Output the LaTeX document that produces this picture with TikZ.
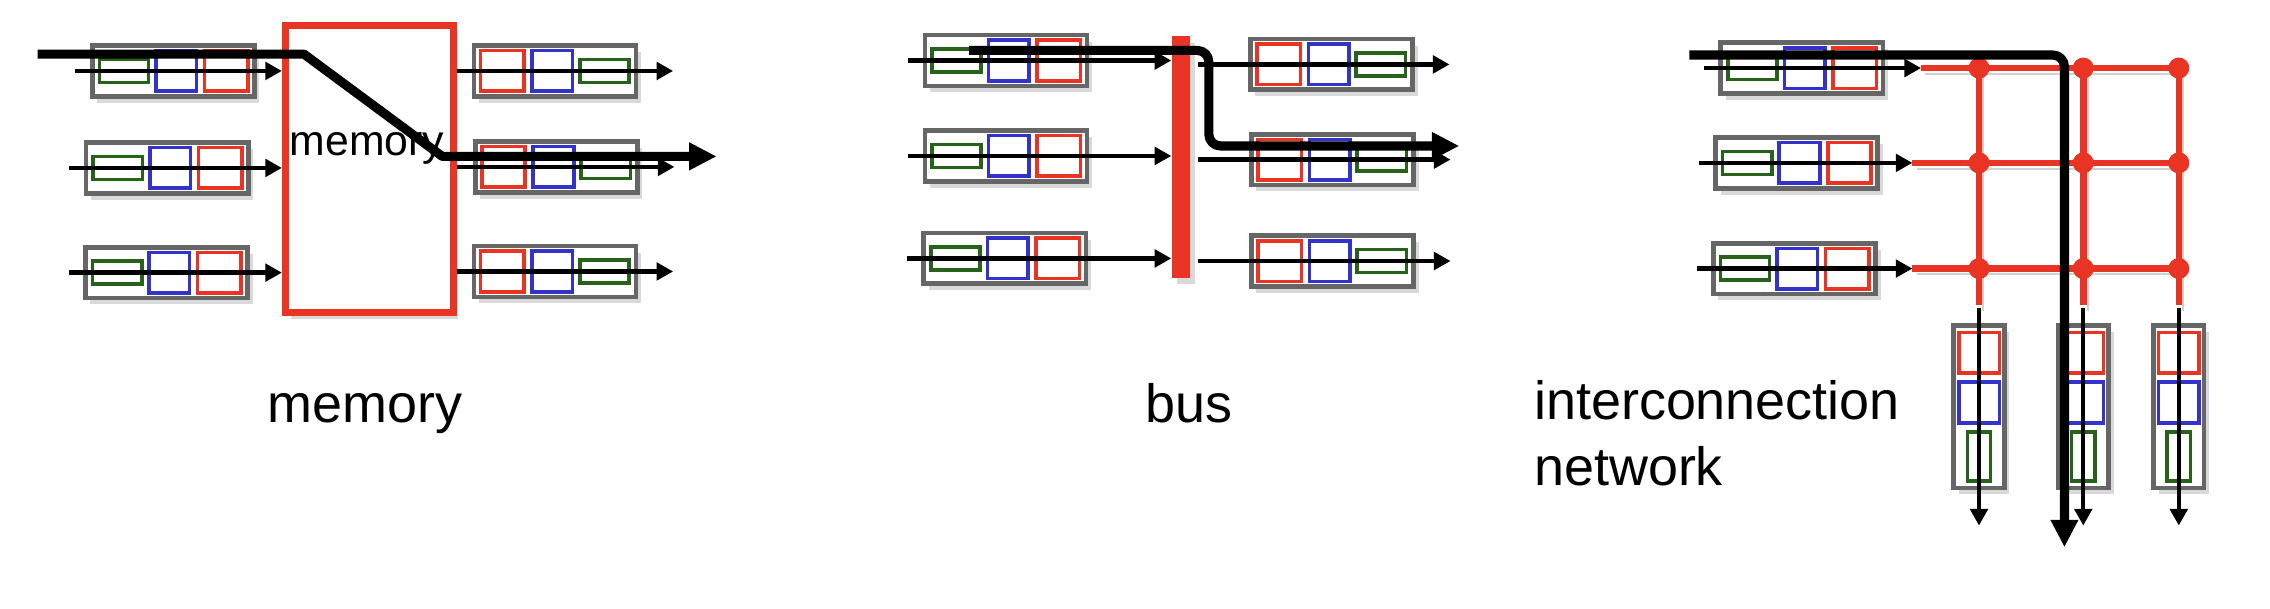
\documentclass[tikz,border=0pt]{standalone}
\usepackage{fontspec}
\setmainfont{Liberation Sans}
\usepackage{tikz}
\usetikzlibrary{arrows.meta, shadows}
\usetikzlibrary{positioning}

\definecolor{qred}{RGB}{233,51,35}
\definecolor{qblue}{RGB}{51,51,204}
\definecolor{qgreen}{RGB}{38,98,25}
\definecolor{qgray}{RGB}{102,102,102}

\begin{document}
\begin{tikzpicture}[x=0.1mm, y=-0.1mm,
            queue/.style={rectangle, draw=qgray, line width=0.9pt, fill=white, inner sep=0pt, minimum width=11.2mm, minimum height=3.5mm, drop shadow={shadow xshift=0.35mm, shadow yshift=-0.45mm, opacity=0.3}},
            vqueue/.style={queue, minimum width=3.5mm, minimum height=11.2mm},
            cell/.style={rectangle, line width=0.7pt, inner sep=0pt, minimum width=2.8mm, minimum height=2.8mm},
            redcell/.style={cell, draw=qred},
            bluecell/.style={cell, draw=qblue},
            greencell/.style={cell, draw=qgreen, minimum width=3.4mm, minimum height=1.6mm},
            vgreencell/.style={cell, draw=qgreen, minimum width=1.6mm, minimum height=3.4mm},
            thinarrow/.style={line width=0.85pt, -{Triangle[length=1.15mm, width=1.2mm]}},
            fatarrow/.style={line width=1.8pt, line join=round, -{Triangle[length=1.9mm, width=1.8mm]}},
            gridline/.style={draw=qred, line width=1.3pt, preaction={draw=black, opacity=0.18, transform canvas={xshift=0.3mm, yshift=-0.4mm}}},
            dot/.style={circle, fill=qred, inner sep=0pt, minimum size=1.45mm},
            caption/.style={font=\fontsize{10.6}{12.9}\selectfont, inner sep=0pt}]
            \useasboundingbox (0,0) rectangle (1568,420);

            % Switching via memory
            \foreach \i/\x/\y in {1/119.7/49, 2/115.5/116, 3/115/188.3} {
                \node[queue] (mi\i) at (\x,\y) {};
                \node[greencell] at ([xshift=-3.41mm]mi\i.center) {};
                \node[bluecell] at ([xshift=0.2mm]mi\i.center) {};
                \node[redcell, minimum width=3mm] at ([xshift=3.65mm]mi\i.center) {};
            }
            \foreach \i/\x/\y in {1/383.4/49, 2/384.3/115.3, 3/383.4/187.5} {
                \node[queue] (mo\i) at (\x,\y) {};
                \node[redcell, minimum width=3mm] at ([xshift=-3.65mm]mo\i.center) {};
                \node[bluecell] at ([xshift=-0.2mm]mo\i.center) {};
                \node[greencell] at ([xshift=3.41mm]mo\i.center) {};
            }
            \node[rectangle, draw=qred, line width=1.4pt, fill=white, minimum width=11.6mm, minimum height=19.8mm, drop shadow={shadow xshift=0.35mm, shadow yshift=-0.45mm, opacity=0.3}] (mem) at (255.2,116.8) {};
            \node[font=\fontsize{8.4}{10}\selectfont, inner sep=0pt, anchor=base] (memtxt) at (253.5,107.4) {memory};

            \foreach \i in {1,2,3} {
                \coordinate (mia\i) at ([xshift=-1mm]mi\i.west);
                \draw[thinarrow] (mia\i) -- (mia\i -| mem.west);
                \draw[thinarrow] (mo\i -| mem.east) -- ([xshift=2.4mm]mo\i.east);
            }
            \coordinate (mstart) at (26,37.4);
            \coordinate (mbend1) at (210,37.4);
            \coordinate (mbend2) at (305.5,108);
            \coordinate (mend) at (495,108);
            \draw[fatarrow] (mstart) -- (mbend1) -- (mbend2) -- (mend);
            \node[caption, anchor=base] (memlbl) at (252,292) {memory};

            % Switching via bus
            \foreach \i/\x/\y in {1/694.9/41.8, 2/694.9/107.7, 3/694.1/178.5} {
                \node[queue] (bi\i) at (\x,\y) {};
                \node[greencell] at ([xshift=-3.41mm]bi\i.center) {};
                \node[bluecell] at ([xshift=0.2mm]bi\i.center) {};
                \node[redcell, minimum width=3mm] at ([xshift=3.65mm]bi\i.center) {};
            }
            \foreach \i/\x/\y in {1/919.7/44.5, 2/920.4/110.2, 3/920.4/180.3} {
                \node[queue] (bo\i) at (\x,\y) {};
                \node[redcell, minimum width=3mm] at ([xshift=-3.65mm]bo\i.center) {};
                \node[bluecell] at ([xshift=-0.2mm]bo\i.center) {};
                \node[greencell] at ([xshift=3.41mm]bo\i.center) {};
            }
            \node[rectangle, fill=qred, inner sep=0pt, minimum width=1.2mm, minimum height=16.7mm, drop shadow={shadow xshift=0.35mm, shadow yshift=-0.45mm, opacity=0.3}] (bus) at (815.8,108.5) {};

            \foreach \i in {1,2,3} {
                \coordinate (bia\i) at ([xshift=-1mm]bi\i.west);
                \draw[thinarrow] (bia\i) -- (bia\i -| bus.west);
                \draw[thinarrow, shorten <=0.5mm] (bo\i -| bus.east) -- ([xshift=2.4mm]bo\i.east);
            }
            \coordinate (bstart) at (669.4,34.8);
            \coordinate (bbend1) at (835,34.8);
            \coordinate (bbend2) at (835,100.8);
            \coordinate (bend) at (1008,100.8);
            \draw[fatarrow, rounded corners=0.8mm] (bstart) -- (bbend1) -- (bbend2) -- (bend);
            \node[caption, anchor=base] (buslbl) at (821,292) {bus};

            % Switching via interconnection network
            \foreach \i/\x/\y in {1/1244.6/47, 2/1241/112.5, 3/1239.5/185.5} {
                \node[queue] (ni\i) at (\x,\y) {};
                \node[greencell] at ([xshift=-3.41mm]ni\i.center) {};
                \node[bluecell] at ([xshift=0.2mm]ni\i.center) {};
                \node[redcell, minimum width=3mm] at ([xshift=3.65mm]ni\i.center) {};
            }
            \foreach \c/\x in {1/1367, 2/1439, 3/1505} {
                \node[vqueue] (nv\c) at (\x,281) {};
                \node[redcell] at ([yshift=3.72mm]nv\c.center) {};
                \node[bluecell] at ([yshift=0.3mm]nv\c.center) {};
                \node[vgreencell] at ([yshift=-3.44mm]nv\c.center) {};
                \coordinate (cb\c) at (\x,211);
                \coordinate (ce\c) at (\x,363);
            }
            \foreach \r/\y/\s in {1/47/1327, 2/112.5/1321, 3/185.5/1321} {
                \coordinate (rs\r) at (\s,\y);
                \foreach \c/\x in {1/1367, 2/1439, 3/1505}
                    \coordinate (g\r\c) at (\x,\y);
            }
            \draw[gridline] foreach \r in {1,2,3} {(rs\r) -- (g\r3)}
                foreach \c in {1,2,3} {(g1\c) -- (cb\c)};
            \foreach \r in {1,2,3}
                \foreach \c in {1,2,3}
                    \node[dot] (d\r\c) at (g\r\c) {};
            \foreach \c in {1,2,3}
                \draw[thinarrow, shorten <=0.15mm] (cb\c) -- (ce\c);
            \foreach \i in {1,2,3} {
                \coordinate (nia\i) at ([xshift=-1mm]ni\i.west);
                \draw[thinarrow] (nia\i) -- (nia\i -| rs\i);
            }
            \coordinate (nstart) at (1167,38);
            \coordinate (nbend) at (1426,38);
            \coordinate (nend) at (1426,378);
            \draw[fatarrow, rounded corners=0.8mm] (nstart) -- (nbend) -- (nend);
            \node[caption, align=left, anchor=base west] (netlbl) at (1059,335) {interconnection\\network};
        \end{tikzpicture}
\end{document}
